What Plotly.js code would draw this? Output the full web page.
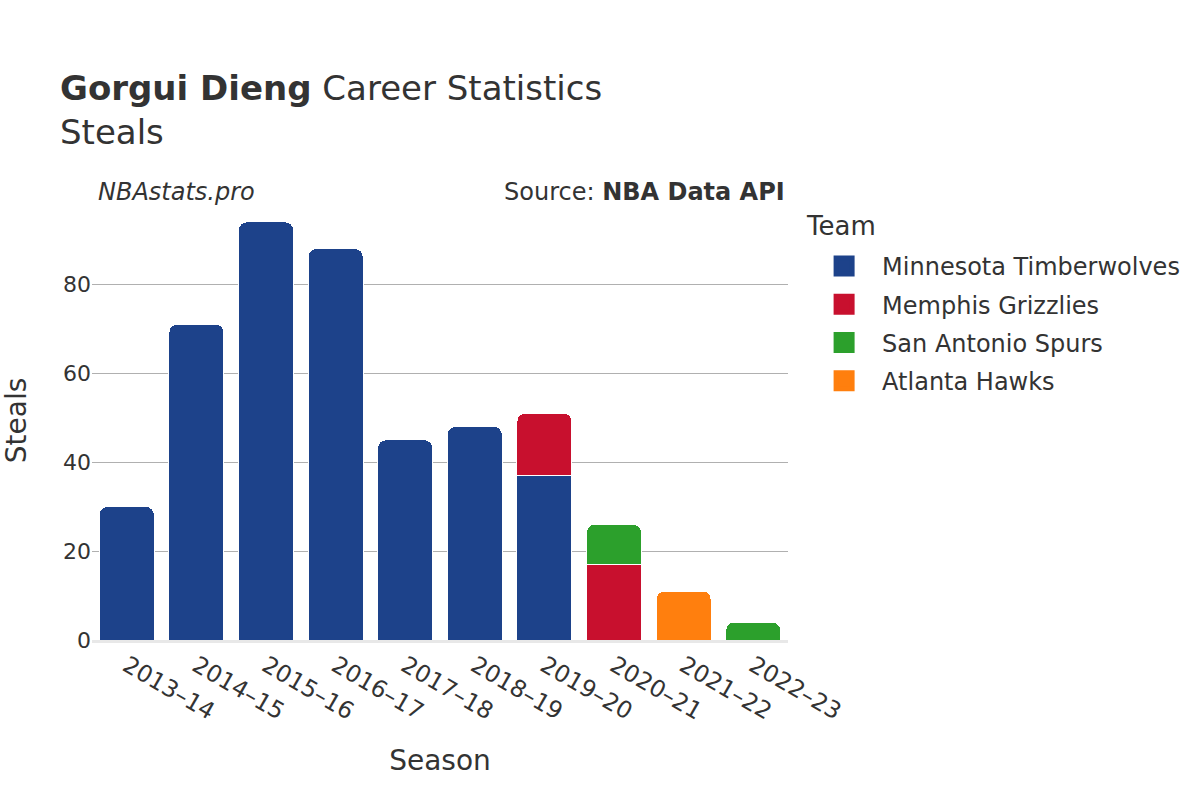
<!DOCTYPE html>
<html>
<head>
<meta charset="utf-8">
<script src="https://cdn.plot.ly/plotly-3.0.1.min.js"></script>
<style>html,body{margin:0;padding:0;background:#fff;}#chart{width:1200px;height:800px;}</style>
</head>
<body>
<div id="chart"></div>
<script>
const seasons = ["2013–14","2014–15","2015–16","2016–17","2017–18","2018–19","2019–20","2020–21","2021–22","2022–23"];
const teams = ["Minnesota Timberwolves","Memphis Grizzlies","San Antonio Spurs","Atlanta Hawks"];
const teamColors = ["#1d428a","#c8102e","#2ca02c","#ff7f0e"];
const minnesotaSteals = [30,71,94,88,45,48,37,null,null,null];
const memphisSteals   = [null,null,null,null,null,null,14,17,null,null];
const spursSteals     = [null,null,null,null,null,null,null,9,null,4];
const hawksSteals     = [null,null,null,null,null,null,null,null,11,null];
const seriesValues = [minnesotaSteals, memphisSteals, spursSteals, hawksSteals];

const font = "DejaVu Sans, sans-serif";
const traces = teams.map((t,i)=>({
  type:"bar", name:t, x:seasons, y:seriesValues[i],
  legendgroup:t, showlegend:false,
  marker:{color:teamColors[i], line:{color:"#ffffff", width:1}},
  hovertemplate:"%{x}: %{y}<extra>"+t+"</extra>"
}));
// legend entries (larger swatches)
teams.forEach((t,i)=>traces.push({
  type:"scatter", mode:"markers", name:t, legendgroup:t,
  x:[seasons[0]], y:[null],
  marker:{symbol:"square", size:16, color:teamColors[i], line:{color:teamColors[i], width:5}},
  hoverinfo:"skip"
}));

const layout = {
  width:1200, height:800,
  barmode:"stack", barcornerradius:8, bargap:0.21,
  paper_bgcolor:"#fff", plot_bgcolor:"#fff",
  font:{family:font, color:"#333", size:22},
  title:{text:"<b>Gorgui Dieng</b> Career Statistics<br>Steals", x:0.05, xanchor:"left", yref:"container", y:0.875, yanchor:"top", font:{size:34, color:"#333"}},
  margin:{l:92, r:412, t:201, b:160},
  xaxis:{title:{text:"Season", font:{size:28}, standoff:26}, type:"category", range:[-0.5, 9.5], autorange:false, tickangle:30, tickfont:{size:23.5}, showgrid:false, linecolor:"#e8e8e8", linewidth:3, showline:true},
  yaxis:{title:{text:"Steals", font:{size:28}}, automargin:false, range:[0,98.7], dtick:20, gridcolor:"#b0b0b0", gridwidth:1, zeroline:false, tickfont:{size:22}},
  legend:{x:1.026, y:0.902, xanchor:"left", yanchor:"top", font:{size:24}, traceorder:"grouped", itemsizing:"trace", itemwidth:66, tracegroupgap:4},
  annotations:[
    {text:"<i>NBAstats.pro</i>", xref:"paper", yref:"paper", x:0.006, y:1.0205, xanchor:"left", yanchor:"middle", showarrow:false, font:{size:24, color:"#333"}},
    {text:"Source: <b>NBA Data API</b>", xref:"paper", yref:"paper", x:0.998, y:1.0205, xanchor:"right", yanchor:"middle", showarrow:false, font:{size:24, color:"#333"}},
    {text:"Team", xref:"paper", yref:"paper", x:1.0225, y:0.943, xanchor:"left", yanchor:"middle", showarrow:false, font:{size:26, color:"#333"}}
  ]
};
Plotly.newPlot("chart", traces, layout, {displayModeBar:false});
</script>
</body>
</html>
